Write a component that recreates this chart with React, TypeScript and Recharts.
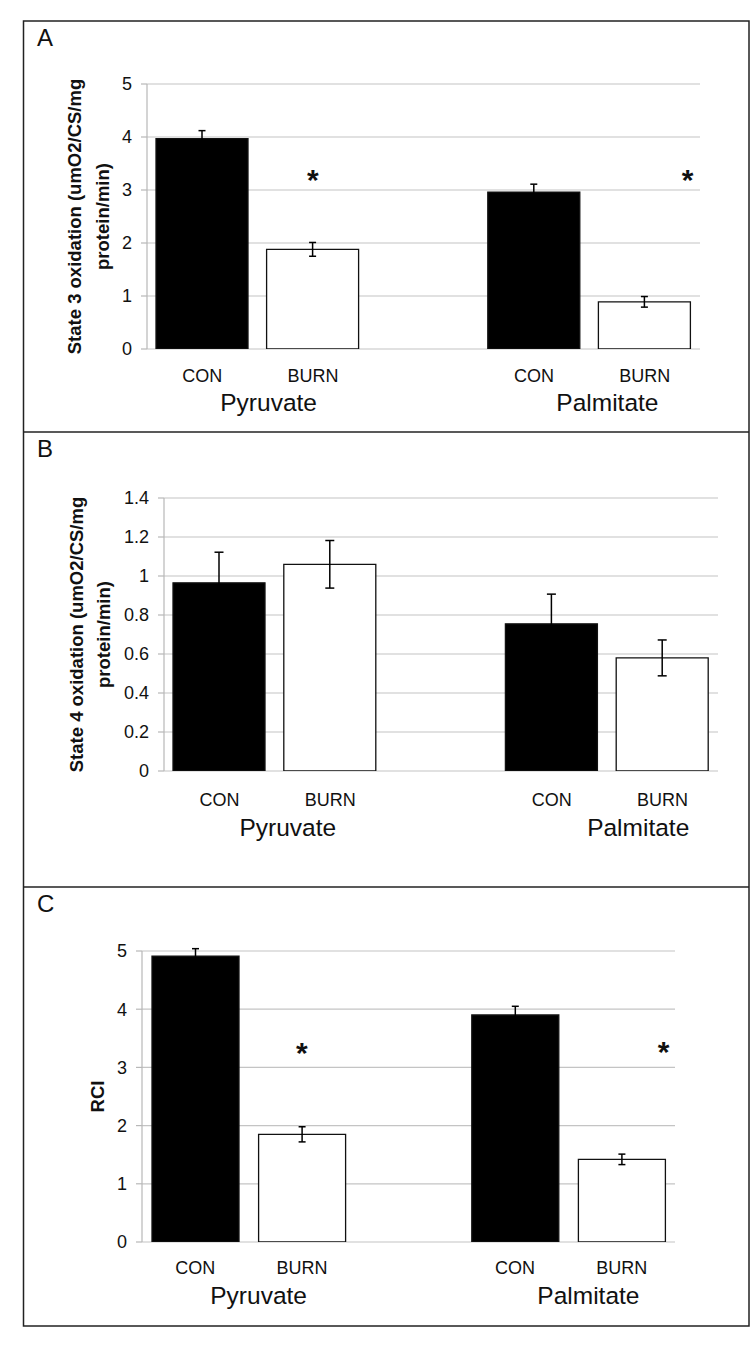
import React from 'react';
import { BarChart, Bar, XAxis, YAxis, CartesianGrid, ErrorBar, Cell, ReferenceDot } from 'recharts';

const groups = ['Pyruvate', 'Palmitate'];
const conditions = ['CON', 'BURN'];

// order: Pyruvate CON, Pyruvate BURN, Palmitate CON, Palmitate BURN
const state3Mean = [3.97, 1.88, 2.96, 0.89];
const state3Err = [0.15, 0.13, 0.15, 0.1];
const state4Mean = [0.965, 1.06, 0.755, 0.58];
const state4Err = [0.157, 0.122, 0.152, 0.092];
const rciMean = [4.91, 1.85, 3.9, 1.42];
const rciErr = [0.13, 0.13, 0.15, 0.09];

const state3Ticks = [0, 1, 2, 3, 4, 5];
const state4Ticks = [0, 0.2, 0.4, 0.6, 0.8, 1, 1.2, 1.4];
const rciTicks = [0, 1, 2, 3, 4, 5];

// asterisk height (in axis units) over BURN, per group; null = no marker
const state3Stars = [3.32, 3.32];
const state4Stars = [null, null];
const rciStars = [3.37, 3.38];

const FONT = '"Liberation Sans", Arial, sans-serif';

type Row = { slot: string; label: string; group: string; cond: string; value: number | null; err: number | null };

const buildRows = (mean: number[], err: number[]): Row[] => {
  const rows: Row[] = [];
  groups.forEach((g, gi) => {
    if (gi > 0) rows.push({ slot: 'gap', label: '', group: '', cond: '', value: null, err: null });
    conditions.forEach((c, ci) => {
      const i = gi * 2 + ci;
      rows.push({ slot: `${g}-${c}`, label: c, group: g, cond: c, value: mean[i], err: err[i] });
    });
  });
  return rows;
};

const panels = [
  {
    letter: 'A', top: 21, height: 411, plotLeft: 147, plotRight: 700, plotTop: 63, plotBottom: 328,
    mean: state3Mean, err: state3Err, ticks: state3Ticks, stars: state3Stars,
    yLabel: ['State 3 oxidation (umO2/CS/mg', 'protein/min)'], yLabelX: [74, 102],
    barSize: 92, cap: 3.5, groupDx: [11, 18], starDx: [0, 43], condDy: 33, groupDy: 62,
  },
  {
    letter: 'B', top: 432, height: 455, plotLeft: 164, plotRight: 718, plotTop: 66, plotBottom: 339,
    mean: state4Mean, err: state4Err, ticks: state4Ticks, stars: state4Stars,
    yLabel: ['State 4 oxidation (umO2/CS/mg', 'protein/min)'], yLabelX: [76, 103],
    barSize: 92, cap: 4.5, groupDx: [13, 31], starDx: [0, 43], condDy: 35, groupDy: 65,
  },
  {
    letter: 'C', top: 887, height: 439, plotLeft: 142, plotRight: 675, plotTop: 64, plotBottom: 355,
    mean: rciMean, err: rciErr, ticks: rciTicks, stars: rciStars,
    yLabel: ['RCI'], yLabelX: [97],
    barSize: 87, cap: 3.5, groupDx: [10, 20], starDx: [0, 42], condDy: 32, groupDy: 62,
  },
];

const Panel = ({ p }: { p: (typeof panels)[number] }) => {
  const rows = buildRows(p.mean, p.err);
  const slotW = (p.plotRight - p.plotLeft) / rows.length;
  const xAxisH = 70;
  const max = p.ticks[p.ticks.length - 1];

  const renderTick = (props: any) => {
    const { x, y, payload } = props;
    const row = rows.find((r) => r.slot === payload.value);
    if (!row || !row.label) return <g />;
    const gi = groups.indexOf(row.group);
    return (
      <g fontFamily={FONT} fill="#111">
        <text x={x} y={y + p.condDy} textAnchor="middle" fontSize={18}>{row.label}</text>
        {row.cond === 'CON' && (
          <text x={x + slotW / 2 + p.groupDx[gi]} y={y + p.groupDy} textAnchor="middle" fontSize={24.5}>
            {row.group}
          </text>
        )}
      </g>
    );
  };

  const renderYLabel = (props: any) => {
    const vb = props.viewBox || {};
    const cy = vb.y + vb.height / 2;
    return (
      <g>
        {p.yLabel.map((t, i) => (
          <text
            key={i}
            x={p.yLabelX[i]}
            y={cy}
            transform={`rotate(-90 ${p.yLabelX[i]} ${cy})`}
            textAnchor="middle"
            dominantBaseline="central"
            fontFamily={FONT}
            fontWeight="bold"
            fontSize={18.5}
            fill="#111"
          >
            {t}
          </text>
        ))}
      </g>
    );
  };

  return (
    <div style={{ position: 'absolute', left: 0, top: p.top }}>
      <BarChart
        width={750}
        height={p.height}
        data={rows}
        margin={{ top: p.plotTop, right: 750 - p.plotRight, left: 0, bottom: p.height - p.plotBottom - xAxisH }}
      >
        <CartesianGrid vertical={false} stroke="#c4c4c4" strokeWidth={1.2} />
        <XAxis
          dataKey="slot"
          interval={0}
          axisLine={false}
          tickLine={false}
          tickSize={0}
          tickMargin={0}
          height={xAxisH}
          tick={renderTick}
        />
        <YAxis
          width={p.plotLeft}
          domain={[0, max]}
          ticks={p.ticks}
          allowDataOverflow
          interval={0}
          axisLine={{ stroke: '#b8b8b8', strokeWidth: 1.2 }}
          tickLine={{ stroke: '#b8b8b8', strokeWidth: 1.2 }}
          tickSize={6}
          tickMargin={9}
          tick={{ fontSize: 18, fill: '#111', fontFamily: FONT }}
          label={{ content: renderYLabel }}
        />
        <Bar dataKey="value" barSize={p.barSize} isAnimationActive={false}>
          {rows.map((r, i) => (
            <Cell key={i} fill={r.cond === 'CON' ? '#000' : '#fff'} stroke="#111" strokeWidth={1.3} />
          ))}
          <ErrorBar dataKey="err" direction="y" width={p.cap} stroke="#000" strokeWidth={1.5} />
        </Bar>
        {p.stars.map((s, gi) =>
          s == null ? null : (
            <ReferenceDot
              key={gi}
              x={`${groups[gi]}-BURN`}
              y={s}
              r={0}
              ifOverflow="visible"
              shape={(sp: any) => (
                <text
                  x={sp.cx + p.starDx[gi]}
                  y={sp.cy + 17}
                  textAnchor="middle"
                  fontFamily={FONT}
                  fontWeight="bold"
                  fontSize={30}
                  fill="#111"
                >
                  *
                </text>
              )}
            />
          )
        )}
      </BarChart>
    </div>
  );
};

export default function App() {
  return (
    <div style={{ position: 'absolute', left: 0, top: 0, width: 750, height: 1348, background: '#fff' }}>
      {panels.map((p) => (
        <Panel key={p.letter} p={p} />
      ))}
      <svg width={750} height={1348} style={{ position: 'absolute', left: 0, top: 0, pointerEvents: 'none' }}>
        <rect x={23.5} y={21} width={725.5} height={1305} fill="none" stroke="#222" strokeWidth={1.5} />
        <line x1={23.5} x2={749} y1={432} y2={432} stroke="#222" strokeWidth={1.5} />
        <line x1={23.5} x2={749} y1={887} y2={887} stroke="#222" strokeWidth={1.5} />
        {panels.map((p) => (
          <text key={p.letter} x={37} y={p.top + 25} fontFamily={FONT} fontSize={24} fill="#111">
            {p.letter}
          </text>
        ))}
      </svg>
    </div>
  );
}
